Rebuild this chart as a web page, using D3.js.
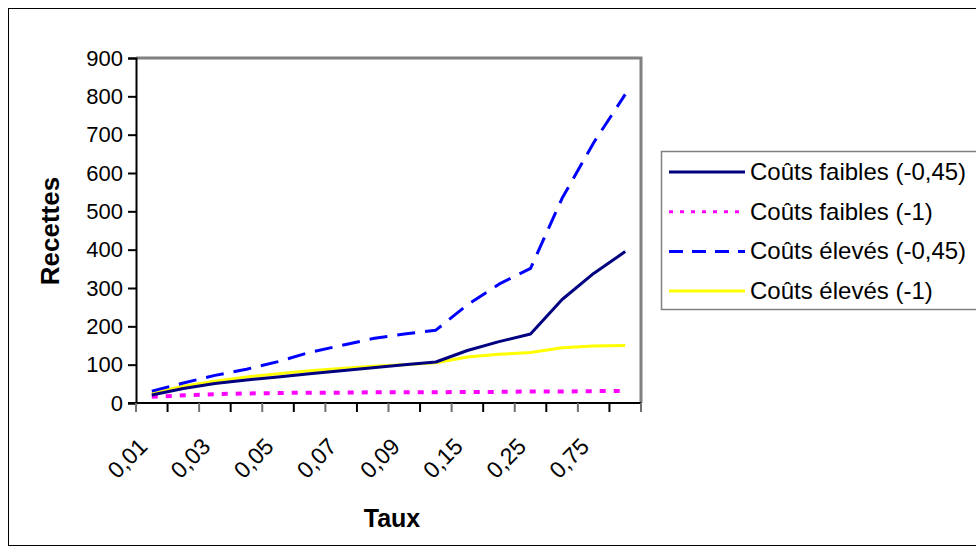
<!DOCTYPE html>
<html><head><meta charset="utf-8">
<script src="https://cdn.jsdelivr.net/npm/d3@7"></script>
<style>body{margin:0;background:#fff;} svg{display:block;font-family:"Liberation Sans",Arial,sans-serif;}</style>
</head><body>
<svg id="c" width="976" height="553"></svg>
<script>
const categories = ["0,01","0,02","0,03","0,04","0,05","0,06","0,07","0,08","0,09","0,1","0,15","0,2","0,25","0,5","0,75","1"];
const shownLabels = ["0,01","0,03","0,05","0,07","0,09","0,15","0,25","0,75"];
const coutsFaibles045 = [21,38,51,60,68,76,84,92,100,107,137,160,180,270,338,395];
const coutsFaibles1 = [16,20,23,25,26,27,27,28,28,28,29,29,30,30,31,31];
const coutsEleves045 = [31,52,72,88,108,132,150,168,180,190,256,310,351,534,679,805];
const coutsEleves1 = [25,44,57,68,76,84,90,96,100,105,120,127,132,144,149,150];
const yTicks = [0,100,200,300,400,500,600,700,800,900];
const seriesNames = ["Coûts faibles (-0,45)","Coûts faibles (-1)","Coûts élevés (-0,45)","Coûts élevés (-1)"];

const series = [
  {name:seriesNames[0], values:coutsFaibles045, color:"#000080", dash:null, width:3},
  {name:seriesNames[1], values:coutsFaibles1, color:"#ff00ff", dash:"6,8", width:4},
  {name:seriesNames[2], values:coutsEleves045, color:"#0000ff", dash:"18,10", width:3},
  {name:seriesNames[3], values:coutsEleves1, color:"#ffff00", dash:null, width:3}
];

const svg = d3.select("#c");
const L=136, R=641, T=58, B=403;

svg.append("rect").attr("x",8.5).attr("y",8.5).attr("width",980).attr("height",537)
  .attr("fill","none").attr("stroke","#000").attr("stroke-width",1);

const x = d3.scaleBand().domain(categories).range([L,R]).padding(0);
const y = d3.scaleLinear().domain([0,900]).range([B,T]);

svg.append("path").attr("d",`M${L},${T}H${R}V${B}`).attr("fill","none").attr("stroke","#808080").attr("stroke-width",3);

const yAxis = svg.append("g").attr("transform",`translate(${L},0)`)
  .call(d3.axisLeft(y).tickValues(yTicks).tickSize(8).tickPadding(5).tickFormat(d3.format("d")));
yAxis.attr("font-size",null).attr("font-family",null);
yAxis.select(".domain").attr("stroke","#000").attr("stroke-width",2);
yAxis.selectAll(".tick line").attr("stroke","#000").attr("stroke-width",2);
yAxis.selectAll("text").style("font-size","22px").attr("fill","#000");

const xb = svg.append("g").attr("transform",`translate(0,${B})`);
xb.append("line").attr("x1",L-8).attr("x2",R).attr("stroke","#000").attr("stroke-width",2);
const bounds = d3.range(categories.length+1).map(i=> L + i*x.bandwidth());
xb.selectAll("line.t").data(bounds).join("line").attr("class","t")
  .attr("x1",d=>d).attr("x2",d=>d).attr("y1",0).attr("y2",9)
  .attr("stroke",(d,i)=> i%2? "#000":"#707070").attr("stroke-width",2);
xb.selectAll("text").data(categories.filter(c=>shownLabels.includes(c))).join("text")
  .attr("transform",d=>`translate(${x(d)+x.bandwidth()/2-3},${45}) rotate(-45)`)
  .attr("text-anchor","end")
  .style("font-size","23px").text(d=>d);

const line = d3.line().x((d,i)=>x(categories[i])+x.bandwidth()/2).y(d=>y(d));
const order = [1,3,0,2];
order.forEach(k=>{
  const s = series[k];
  svg.append("path").datum(s.values).attr("d",line).attr("fill","none")
    .attr("stroke",s.color).attr("stroke-width",s.width)
    .attr("stroke-dasharray",s.dash).attr("stroke-linejoin","round");
});

svg.append("text").attr("x",392).attr("y",527).attr("text-anchor","middle")
  .style("font-size","25px").attr("font-weight","bold").text("Taux");
svg.append("text").attr("transform","translate(59,231) rotate(-90)").attr("text-anchor","middle")
  .style("font-size","26px").attr("font-weight","bold").text("Recettes");

const lg = svg.append("g");
lg.append("rect").attr("x",661.5).attr("y",151.5).attr("width",330).attr("height",158)
  .attr("fill","#fff").attr("stroke","#808080").attr("stroke-width",1.5);
series.forEach((s,i)=>{
  const yy = 172 + i*39.7;
  lg.append("line").attr("x1",669).attr("x2",745).attr("y1",yy).attr("y2",yy)
    .attr("stroke",s.color).attr("stroke-width",3)
    .attr("stroke-dasharray", s.dash? (i===1?"4,7":"14,9") : null);
  lg.append("text").attr("x",750).attr("y",yy+8)
    .style("font-size","24px").text(s.name);
});
</script>
</body></html>
